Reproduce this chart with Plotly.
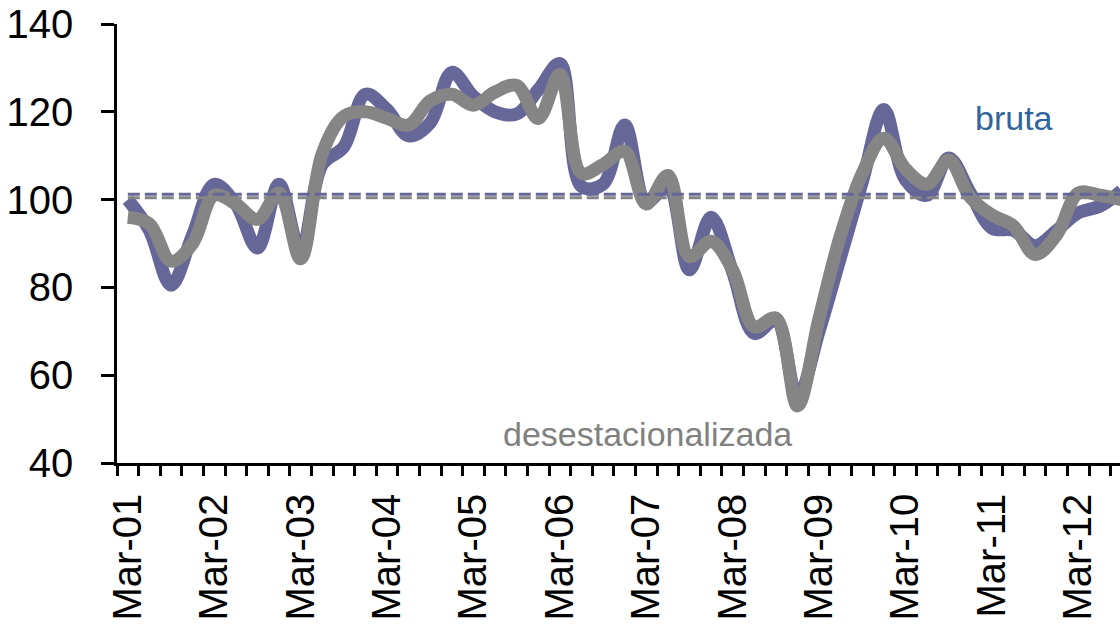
import plotly.graph_objects as go

# Quarterly categories Mar-01 ... Sep-12 (index positions on a category axis)
quarters = ["Mar-01","Jun-01","Sep-01","Dec-01","Mar-02","Jun-02","Sep-02","Dec-02",
            "Mar-03","Jun-03","Sep-03","Dec-03","Mar-04","Jun-04","Sep-04","Dec-04",
            "Mar-05","Jun-05","Sep-05","Dec-05","Mar-06","Jun-06","Sep-06","Dec-06",
            "Mar-07","Jun-07","Sep-07","Dec-07","Mar-08","Jun-08","Sep-08","Dec-08",
            "Mar-09","Jun-09","Sep-09","Dec-09","Mar-10","Jun-10","Sep-10","Dec-10",
            "Mar-11","Jun-11","Sep-11","Dec-11","Mar-12","Jun-12","Sep-12"]

bruta = [100, 93, 80.5, 92, 103.5, 99, 89, 103.5,
         88, 108, 112, 124, 120.5, 114.5, 117.5, 129,
         123.5, 120, 119.5, 125, 131, 103, 103.5, 117,
         99.5, 103, 84, 96, 83.5, 69.5, 72.5, 55,
         70, 87, 104, 120.5, 104.5, 101, 109.5, 101.5,
         93.5, 93, 89.5, 93, 97, 98.5, 102]

desest = [96, 94.5, 86, 90, 101, 99, 95.5, 101.5,
          86.5, 110.5, 119, 120, 118.5, 117, 122.5, 124,
          121.5, 124.5, 126, 118.5, 128.5, 106, 108, 111,
          99, 105.5, 87, 90.5, 84, 71, 73, 53,
          73, 92, 106, 114, 107, 103.5, 109, 100.5,
          96.5, 94, 87.5, 92, 101.5, 101, 100]

promedio_bruta = 101.2
promedio_desest = 100.4

year_labels = ["Mar-01","Mar-02","Mar-03","Mar-04","Mar-05","Mar-06",
               "Mar-07","Mar-08","Mar-09","Mar-10","Mar-11","Mar-12"]

n = len(quarters)
xs = list(range(n))
label_pos = [quarters.index(l) for l in year_labels]

PURPLE = "#666699"
GRAY = "#858585"

fig = go.Figure()
fig.add_trace(go.Scatter(x=xs, y=bruta, mode="lines",
                         line=dict(color=PURPLE, width=13, shape="spline", smoothing=1.0),
                         hoverinfo="skip"))
fig.add_trace(go.Scatter(x=xs, y=desest, mode="lines",
                         line=dict(color=GRAY, width=13, shape="spline", smoothing=1.0),
                         hoverinfo="skip"))
fig.add_trace(go.Scatter(x=xs, y=[promedio_bruta] * n, mode="lines",
                         line=dict(color=PURPLE, width=3, dash="12px,5px"),
                         hoverinfo="skip"))
fig.add_trace(go.Scatter(x=xs, y=[promedio_desest] * n, mode="lines",
                         line=dict(color=GRAY, width=3, dash="12px,5px"),
                         hoverinfo="skip"))

ann_font = "Liberation Sans, Arial, sans-serif"
fig.add_annotation(x=41.0, y=118.6, xref="x", yref="y", text="bruta", showarrow=False,
                   font=dict(family=ann_font, size=34, color="#2F659C"))
fig.add_annotation(x=24.05, y=46.6, xref="x", yref="y", text="desestacionalizada", showarrow=False,
                   font=dict(family=ann_font, size=34, color="#808080"))

fig.update_layout(
    width=1120, height=624,
    margin=dict(l=117, r=0, t=24, b=161),
    paper_bgcolor="white", plot_bgcolor="white",
    showlegend=False,
    font=dict(family="Liberation Sans, Arial, sans-serif", size=40, color="black"),
)
fig.update_xaxes(
    range=[-0.5, 45.93], automargin=False,
    showline=True, linecolor="black", linewidth=2.5,
    showgrid=False, zeroline=False,
    tickmode="array", tickvals=label_pos, ticktext=year_labels,
    ticks="", tickangle=-90, ticklabelstandoff=12,
    minor=dict(tickmode="array", tickvals=[k - 0.5 for k in range(n + 1)],
               ticks="outside", ticklen=10, tickwidth=2.5, tickcolor="black", showgrid=False),
)
fig.update_yaxes(
    range=[40, 140], automargin=False,
    showline=True, linecolor="black", linewidth=2.5,
    showgrid=False, zeroline=False,
    tickmode="array", tickvals=[40, 60, 80, 100, 120, 140],
    ticks="outside", ticklen=13, tickwidth=2.5, tickcolor="black",
    ticklabelstandoff=20,
)

fig.write_html("out.html",
               config={"displayModeBar": False},
               post_script="document.body.style.margin='0';document.body.style.overflow='hidden';")
